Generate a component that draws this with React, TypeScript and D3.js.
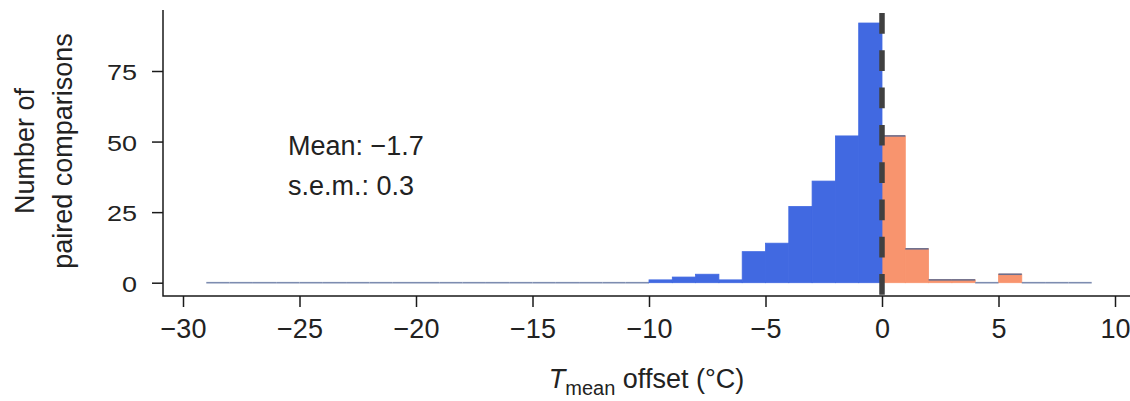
import * as d3 from 'd3';
import { useEffect, useRef } from 'react';

// histogram of T_mean offset, 1 degree bins
const binLower = [-29, -28, -27, -26, -25, -24, -23, -22, -21, -20, -19, -18, -17, -16, -15, -14, -13, -12, -11,
  -10, -9, -8, -7, -6, -5, -4, -3, -2, -1, 0, 1, 2, 3, 4, 5, 6, 7, 8];
const counts = [0, 0, 0, 0, 0, 0, 0, 0, 0, 0, 0, 0, 0, 0, 0, 0, 0, 0, 0,
  1, 2, 3, 1, 11, 14, 27, 36, 52, 92, 52, 12, 1, 1, 0, 3, 0, 0, 0];
const xTicks = [-30, -25, -20, -15, -10, -5, 0, 5, 10];
const yTicks = [0, 25, 50, 75];
const statLines = ['Mean: \u22121.7', 's.e.m.: 0.3'];

const fmt = (v) => (v < 0 ? '\u2212' + Math.abs(v) : String(v));

const App = () => {
  const width = 1130;
  const height = 401;
  const svgRef = useRef(null);

  useEffect(() => {
    const x = d3.scaleLinear().domain([-30, 10]).range([183, 1115]);
    const y = d3.scaleLinear().domain([0, 75]).range([282.7, 71]);
    const axisY = 296;
    const axisX = 163;
    const font = '"Liberation Sans", Arial, sans-serif';
    const blue = '#4169E1';
    const orange = '#F8946E';

    const svg = d3.select(svgRef.current);
    svg.selectAll('*').remove();

    const data = binLower.map((b, i) => ({ x0: b, x1: b + 1, n: counts[i] }));

    // orange bars (positive offsets)
    svg.append('g').selectAll('rect')
      .data(data.filter(d => d.x0 >= 0 && d.n > 0))
      .join('rect')
      .attr('x', d => x(d.x0))
      .attr('width', d => x(d.x1) - x(d.x0))
      .attr('y', d => y(d.n))
      .attr('height', d => y(0) - y(d.n))
      .attr('fill', orange)
      .attr('stroke', orange)
      .attr('stroke-width', 0.8);

    // top outline segments
    svg.append('g').selectAll('line')
      .data(data.filter(d => !(d.x0 < 0 && d.n > 0)))
      .join('line')
      .attr('x1', d => x(d.x0))
      .attr('x2', d => x(d.x1))
      .attr('y1', d => y(d.n))
      .attr('y2', d => y(d.n))
      .attr('stroke', d => (d.n > 0 ? '#6c6f8e' : '#7d8cb0'))
      .attr('stroke-width', 1.6);

    // blue bars (negative offsets)
    svg.append('g').selectAll('rect')
      .data(data.filter(d => d.x0 < 0 && d.n > 0))
      .join('rect')
      .attr('x', d => x(d.x0))
      .attr('width', d => x(d.x1) - x(d.x0))
      .attr('y', d => y(d.n))
      .attr('height', d => y(0) - y(d.n))
      .attr('fill', blue)
      .attr('stroke', blue)
      .attr('stroke-width', 0.8);

    // frame (L shape)
    svg.append('path')
      .attr('d', `M${axisX},10V${axisY}H${width}`)
      .attr('fill', 'none')
      .attr('stroke', '#1a1a1a')
      .attr('stroke-width', 1.5);

    // x axis
    const xAxis = d3.axisBottom(x).tickValues(xTicks).tickSize(11).tickSizeOuter(0).tickPadding(4).tickFormat(fmt);
    const gx = svg.append('g').attr('transform', `translate(0,${axisY})`).call(xAxis);
    gx.select('.domain').remove();
    gx.selectAll('line').attr('stroke', '#1a1a1a').attr('stroke-width', 1.5);
    gx.selectAll('text')
      .attr('font-family', font)
      .attr('font-size', 27)
      .attr('fill', '#222')
      .attr('dy', null)
      .attr('y', 42);

    // y axis
    const yAxis = d3.axisLeft(y).tickValues(yTicks).tickSize(11).tickSizeOuter(0).tickPadding(4);
    const gy = svg.append('g').attr('transform', `translate(${axisX},0)`).call(yAxis);
    gy.select('.domain').remove();
    gy.selectAll('line').attr('stroke', '#1a1a1a').attr('stroke-width', 1.5);
    gy.selectAll('text')
      .attr('font-family', font)
      .attr('font-size', 27)
      .attr('fill', '#222')
      .attr('x', null)
      .attr('dy', null)
      .attr('transform', 'translate(-26,8.5) scale(1,0.85)');

    // dashed zero line
    svg.append('line')
      .attr('x1', x(0)).attr('x2', x(0))
      .attr('y1', 13).attr('y2', axisY)
      .attr('stroke', '#404040')
      .attr('stroke-width', 5.5)
      .attr('stroke-dasharray', '20.7 16.6');

    // stats text
    svg.append('g').selectAll('text')
      .data(statLines)
      .join('text')
      .attr('x', 288)
      .attr('y', (d, i) => 155 + i * 40)
      .attr('font-family', font)
      .attr('font-size', 27)
      .attr('fill', '#222')
      .text(d => d);

    // y label
    const yl = svg.append('text')
      .attr('transform', 'translate(0,151) rotate(-90)')
      .attr('text-anchor', 'middle')
      .attr('font-family', font)
      .attr('font-size', 27)
      .attr('fill', '#222');
    yl.append('tspan').attr('x', 0).attr('y', 34).text('Number of');
    yl.append('tspan').attr('x', 0).attr('y', 72).text('paired comparisons');

    // x label
    const xl = svg.append('text')
      .attr('x', (axisX + width) / 2)
      .attr('y', 388)
      .attr('text-anchor', 'middle')
      .attr('font-family', font)
      .attr('font-size', 27)
      .attr('fill', '#222');
    xl.append('tspan').attr('font-style', 'italic').text('T');
    xl.append('tspan').attr('font-size', 20).attr('dy', 7).text('mean');
    xl.append('tspan').attr('dy', -7).text(' offset (\u00B0C)');
  }, []);

  return (
    <svg ref={svgRef} width={width} height={height} viewBox={`0 0 ${width} ${height}`}
      style={{ position: 'absolute', left: 0, top: 0, background: '#fff' }} />
  );
};

export default App;
